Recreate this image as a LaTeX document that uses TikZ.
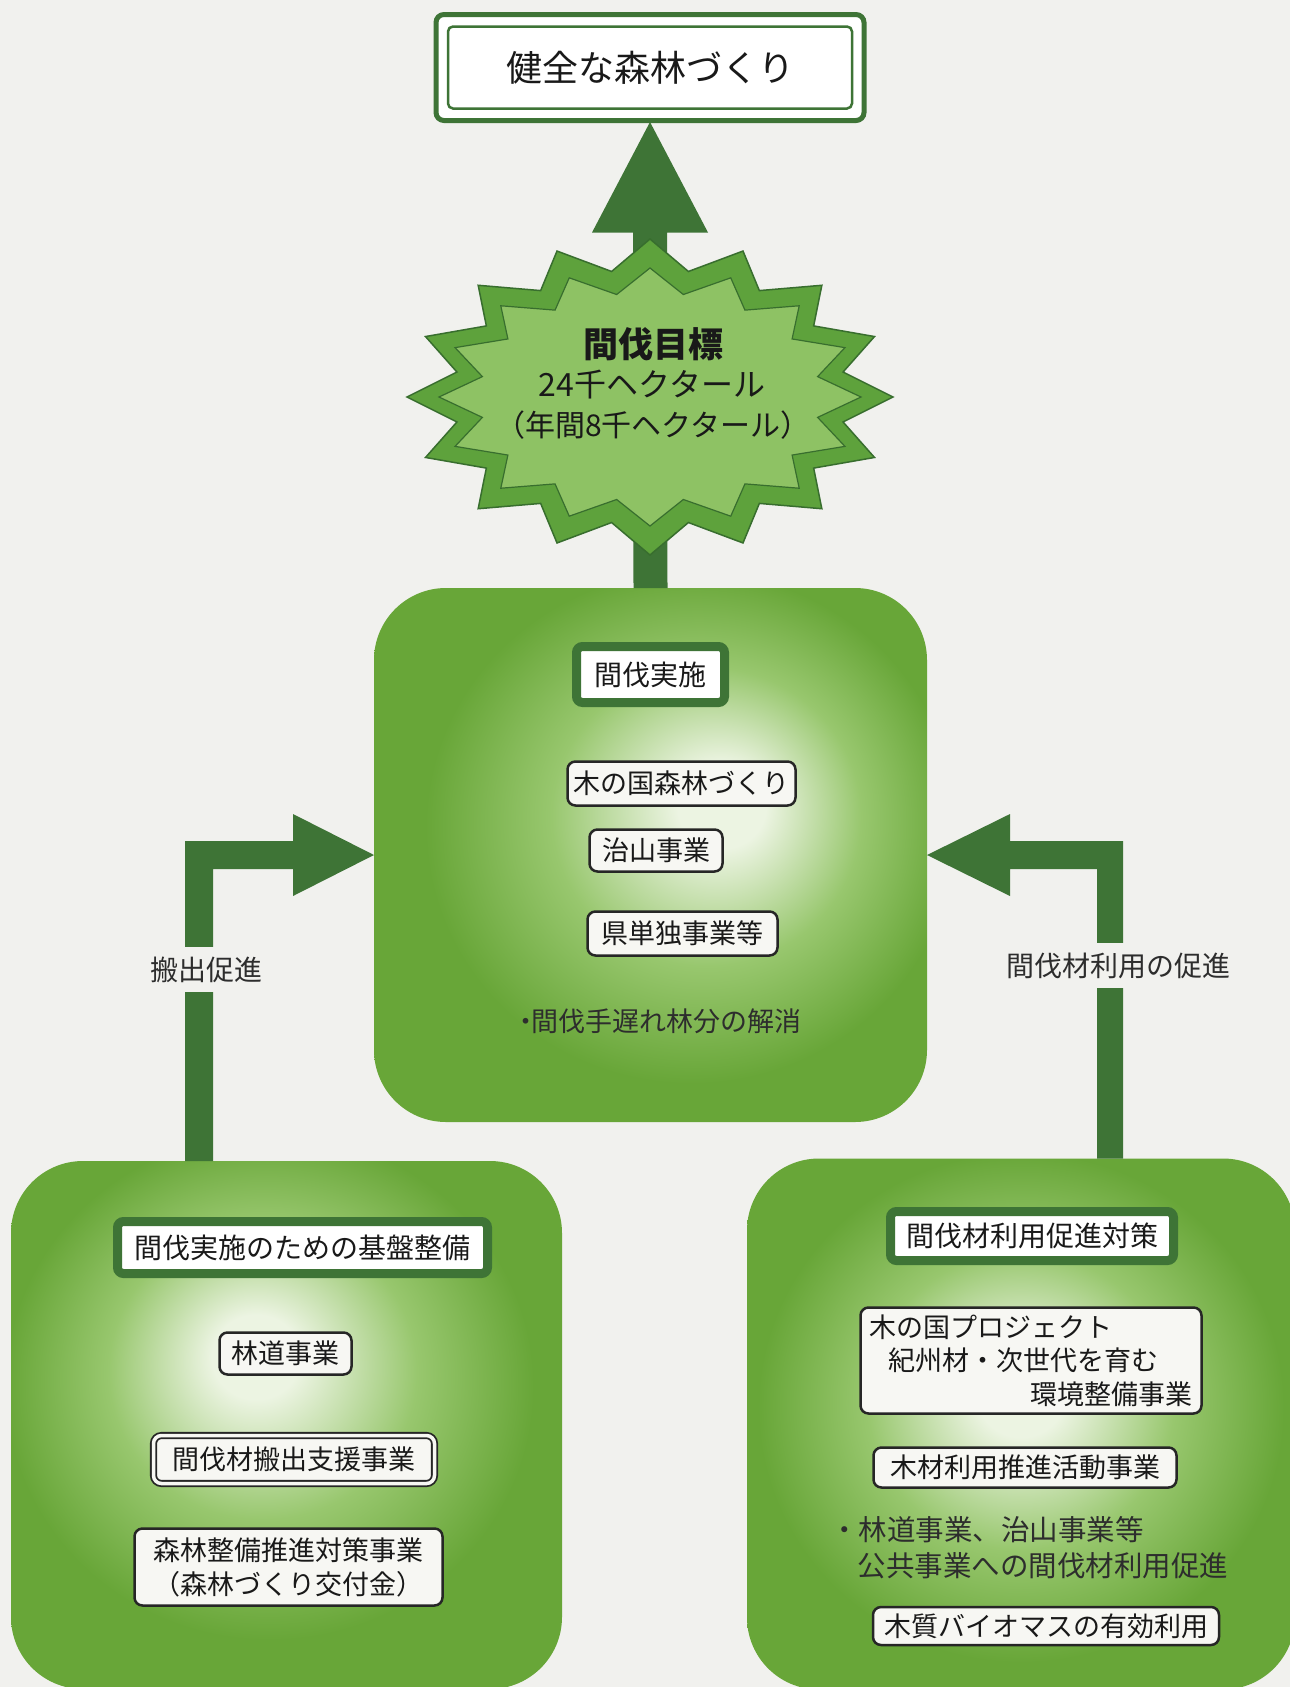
\documentclass[tikz,border=0pt]{standalone}
\usepackage{fontspec}
\newfontfamily\jp{Noto Sans CJK JP}
\usetikzlibrary{calc}
\definecolor{bg}{RGB}{241,241,238}
\definecolor{dkgreen}{RGB}{62,116,54}
\definecolor{boxedge}{RGB}{104,166,56}
\definecolor{boxmid}{RGB}{152,199,110}
\definecolor{boxlight}{RGB}{236,244,226}
\definecolor{starmid}{RGB}{94,162,60}
\definecolor{starlight}{RGB}{142,194,100}
\definecolor{stardark}{RGB}{56,110,46}
\definecolor{itemfill}{RGB}{247,247,243}
\definecolor{txtgray}{RGB}{45,45,45}
\pgfdeclareradialshading{glowC}{\pgfpoint{7bp}{5bp}}{color(0bp)=(boxlight); color(4bp)=(boxlight); color(14bp)=(boxmid); color(24bp)=(boxedge); color(50bp)=(boxedge)}
\pgfdeclareradialshading{glowL}{\pgfpoint{-3bp}{7bp}}{color(0bp)=(boxlight); color(4bp)=(boxlight); color(14bp)=(boxmid); color(24bp)=(boxedge); color(50bp)=(boxedge)}
\pgfdeclareradialshading{glowR}{\pgfpoint{0bp}{3bp}}{color(0bp)=(boxlight); color(4bp)=(boxlight); color(14bp)=(boxmid); color(24bp)=(boxedge); color(50bp)=(boxedge)}
\begin{document}
\begin{tikzpicture}[x=1pt,y=-1pt,
  bigbox/.style={shade, rounded corners=72pt, inner sep=0pt, outer sep=0pt},
  goalbox/.style={draw=dkgreen, line width=5pt, fill=white, rounded corners=8pt,
    minimum width=428pt, minimum height=106pt, inner sep=0pt, outer sep=0pt,
    font=\jp\fontsize{36}{40}\selectfont, text=black!90},
  hdr/.style={draw=dkgreen, line width=9pt, fill=white, rounded corners=6pt,
    inner sep=0pt, outer sep=0pt, font=\jp\fontsize{28}{32}\selectfont, text=black!90},
  item/.style={draw=black!85, line width=2.5pt, fill=itemfill, rounded corners=8pt,
    inner sep=0pt, outer sep=0pt, font=\jp\fontsize{27}{34}\selectfont, text=black!90},
  lbl/.style={font=\jp\fontsize{28}{32}\selectfont, text=txtgray, fill=bg,
    inner xsep=2pt, inner ysep=0pt, minimum height=45pt, outer sep=0pt},
  plain/.style={font=\jp\fontsize{27}{36}\selectfont, text=txtgray, inner sep=0pt, outer sep=0pt},
  startext/.style={text=black!90, inner sep=0pt, outer sep=0pt}
]
\useasboundingbox (0,0) rectangle (1290,1687);
\clip (0,0) rectangle (1290,1687);
\fill[bg] (0,0) rectangle (1290,1687);

% big green panels
\node[bigbox, shading=glowC, minimum width=553pt, minimum height=534pt] (cbox) at (650.5,855) {};
\node[bigbox, shading=glowL, minimum width=551pt, minimum height=528pt] (lbox) at (286.5,1425) {};
\node[bigbox, shading=glowR, minimum width=548pt, minimum height=531pt] (rbox) at (1021,1424) {};

% goal box
\node[goalbox] (goal) at (650,67.5) {健全な森林づくり};
\draw[dkgreen, line width=2.5pt, rounded corners=5pt]
  ($(goal.north west)+(12,12)$) rectangle ($(goal.south east)+(-12,-12)$);

% upward arrow
\fill[dkgreen] ($(cbox.north)+(-17,0)$) -- ($(goal.south)+(-17,112)$) -- ($(goal.south)+(-58,112)$)
  -- ($(goal.south)+(0,1.5)$) -- ($(goal.south)+(58,112)$) -- ($(goal.south)+(17,112)$)
  -- ($(cbox.north)+(17,0)$) -- cycle;

% starburst
\filldraw[fill=starmid, draw=stardark, line width=1.5pt]
  plot[samples at={0,...,31}] ({650+243*(1-0.19*mod(\x,2))*cos(\x*11.25)}, {397+158*(1-0.19*mod(\x,2))*sin(\x*11.25)}) -- cycle;
\filldraw[fill=starlight, draw=stardark, line width=1.2pt]
  plot[samples at={0,...,31}] ({650+211*(1-0.19*mod(\x,2))*cos(\x*11.25)}, {397+129*(1-0.19*mod(\x,2))*sin(\x*11.25)}) -- cycle;
\node[startext, font=\jp\bfseries\fontsize{35}{40}\selectfont] (st1) at (653,344) {間伐目標};
\node[startext, font=\jp\fontsize{32}{36}\selectfont] (st2) at (652,385) {24千ヘクタール};
\node[startext, font=\jp\fontsize{30}{34}\selectfont] (st3) at (653,425) {（年間8千ヘクタール）};

% side arrows
\fill[dkgreen] ($(lbox.north west)+(174,0)$) |- ($(cbox.west)+(-81,-14)$)
  -- ($(cbox.west)+(-81,-41)$) -- (cbox.west) -- ($(cbox.west)+(-81,41)$)
  -- ($(cbox.west)+(-81,14)$) -| ($(lbox.north west)+(202,0)$) -- cycle;
\fill[dkgreen] ($(rbox.north west)+(376,0)$) |- ($(cbox.east)+(83,-14)$)
  -- ($(cbox.east)+(83,-41)$) -- (cbox.east) -- ($(cbox.east)+(83,41)$)
  -- ($(cbox.east)+(83,14)$) -| ($(rbox.north west)+(350,0)$) -- cycle;
\node[lbl] (lab1) at (206,969.5) {搬出促進};
\node[lbl] (lab2) at (1118,965.5) {間伐材利用の促進};

% central panel contents
\node[hdr, minimum width=148pt, minimum height=56pt] (h1) at (650.5,674.5) {間伐実施};
\node[item, minimum width=228pt, minimum height=44pt] (c1) at (681.5,783.5) {木の国森林づくり};
\node[item, minimum width=133pt, minimum height=42pt] (c2) at (656,850.5) {治山事業};
\node[item, minimum width=190pt, minimum height=44pt] (c3) at (682.5,933.5) {県単独事業等};
\node[plain] (c4) at (657,1021) {・\hspace*{-8pt}間伐手遅れ林分の解消};

% left panel contents
\node[hdr, minimum width=370pt, minimum height=52pt] (h2) at (302.5,1247.5) {間伐実施のための基盤整備};
\node[item, minimum width=132pt, minimum height=42pt] (l1) at (285.5,1353.5) {林道事業};
\node[item, draw=black!85, line width=1.8pt, double=itemfill, double distance=3.5pt,
      minimum width=281pt, minimum height=48pt] (l2) at (294,1459.5) {間伐材搬出支援事業};
\node[item, align=center, minimum width=308pt, minimum height=77pt] (l3) at (288.5,1567)
  {森林整備推進対策事業\\（森林づくり交付金）};

% right panel contents
\node[hdr, minimum width=283pt, minimum height=49pt] (h3) at (1032,1236) {間伐材利用促進対策};
\node[item, align=left, minimum width=341pt, minimum height=106pt,
      font=\jp\fontsize{27}{33.5}\selectfont] (r1) at (1031,1360.5)
  {木の国プロジェクト\\\hspace*{19pt}紀州材・次世代を育む\\\hspace*{161pt}環境整備事業};
\node[item, minimum width=303pt, minimum height=40pt] (r2) at (1025,1467.5) {木材利用推進活動事業};
\node[plain, align=left, anchor=west, font=\jp\fontsize{28.5}{36}\selectfont] (r3) at (830,1548)
  {・林道事業、治山事業等\\\hspace*{27.5pt}公共事業への間伐材利用促進};
\node[item, minimum width=346pt, minimum height=38pt] (r4) at (1046,1626) {木質バイオマスの有効利用};
\end{tikzpicture}
\end{document}
